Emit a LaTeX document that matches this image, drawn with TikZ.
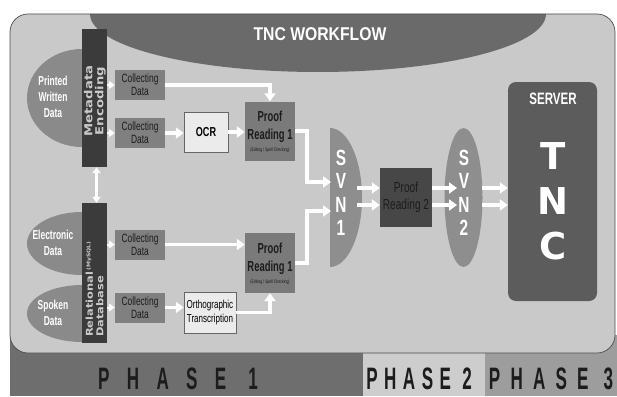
\documentclass[tikz,border=0pt]{standalone}
\usepackage{fontspec}
\setmainfont{Liberation Sans}
\newfontfamily\condfont[FakeStretch=0.7]{Liberation Sans}
\newfontfamily\narrowfont[FakeStretch=0.65]{Liberation Sans}
\newfontfamily\titlefont[FakeStretch=0.85]{Liberation Sans}
\newfontfamily\barfont[FakeStretch=1.2]{DejaVu Sans}
\newfontfamily\bigfont{DejaVu Sans}
\newfontfamily\phasefontA[FakeStretch=0.55,LetterSpace=56]{Liberation Sans}
\newfontfamily\phasefontB[FakeStretch=0.55,LetterSpace=21]{Liberation Sans}
\newfontfamily\phasefontC[FakeStretch=0.55,LetterSpace=33]{Liberation Sans}
\usetikzlibrary{positioning,arrows.meta,calc}
\definecolor{tncpanel}{HTML}{C9C9C9}
\definecolor{tnctitle}{HTML}{6A6A6A}
\definecolor{tncsrc}{HTML}{8A8A8A}
\definecolor{tncbar}{HTML}{3B3B3B}
\definecolor{tnccoll}{HTML}{808080}
\definecolor{tncproof}{HTML}{7A7A7A}
\definecolor{tncproofdark}{HTML}{474747}
\definecolor{tncsvn}{HTML}{8E8E8E}
\definecolor{tncserver}{HTML}{5C5C5C}
\definecolor{tncwhitebox}{HTML}{EBEBEB}
\definecolor{tncphaseA}{HTML}{6E6E6E}
\definecolor{tncphaseB}{HTML}{CDCDCD}
\definecolor{tncphaseC}{HTML}{9D9D9D}
\definecolor{tncink}{HTML}{1C1C1C}

\begin{document}
\begin{tikzpicture}[x=1pt,y=-1pt,
  wharrow/.style={white,line width=3.5pt,-{Triangle[length=8pt,width=11pt]}},
  wsmall/.style={white,line width=2pt,-{Triangle[length=6pt,width=8pt]}},
  wdouble/.style={white,line width=2.5pt,{Triangle[length=6pt,width=8pt]}-{Triangle[length=6pt,width=8pt]}},
  srclab/.style={white,align=center,font=\narrowfont\bfseries\fontsize{13}{16}\selectfont},
  bar/.style={fill=tncbar,minimum width=25pt,inner sep=0pt},
  barlab/.style={text=tncpanel,align=left,font=\barfont\bfseries,inner sep=0pt},
  coll/.style={fill=tnccoll,minimum width=50pt,minimum height=30pt,inner sep=0pt,
    text=tncink,align=center,font=\condfont\fontsize{12}{13}\selectfont},
  wbox/.style={fill=tncwhitebox,draw=black!60,line width=0.5pt,inner sep=0pt,text=black,align=center},
  proofbox/.style={fill=tncproof,minimum width=50pt,minimum height=59pt,inner sep=0pt},
  prooflab/.style={text=tncink,align=center,font=\narrowfont\bfseries\fontsize{14.5}{18}\selectfont},
  editlab/.style={text=tncink,font=\condfont\fontsize{5}{6}\selectfont,inner sep=0pt},
  svnlab/.style={white,align=center,font=\condfont\bfseries\fontsize{22}{23.5}\selectfont},
  phaselab/.style={text=tncink}
]
\useasboundingbox (0,0) rectangle (617,396);

% Phase bands along the bottom
\fill[tncphaseA] (10,335) rectangle (363,396);
\fill[tncphaseB] (363,335) rectangle (485,396);
\fill[tncphaseC] (485,335) rectangle (617,396);
\node[phaselab,font=\phasefontA\bfseries\fontsize{31}{31}\selectfont] (ph1) at (178,379) {PHASE 1};
\node[phaselab,font=\phasefontB\bfseries\fontsize{31}{31}\selectfont] (ph2) at (419,379) {PHASE 2};
\node[phaselab,font=\phasefontC\bfseries\fontsize{31}{31}\selectfont] (ph3) at (551,379) {PHASE 3};

% Main panel and title cap
\fill[tncpanel,rounded corners=18pt] (10,14) rectangle (615,353);
\begin{scope}
  \clip[rounded corners=18pt] (10,14) rectangle (615,353);
  \fill[tnctitle] (318,14) ellipse [x radius=228pt,y radius=58pt];
\end{scope}
\draw[black!70,line width=0.7pt,rounded corners=18pt] (10,14) rectangle (615,353);
\node[white,font=\titlefont\bfseries\fontsize{18.5}{18}\selectfont] (title) at (320,34) {TNC WORKFLOW};

% Data sources (half ellipses behind the bars)
\fill[tncsrc] (82,49) arc[start angle=90,end angle=270,x radius=55pt,y radius=49pt] -- cycle;
\fill[tncsrc] (82,212) arc[start angle=90,end angle=270,x radius=55pt,y radius=31.5pt] -- cycle;
\fill[tncsrc] (82,285) arc[start angle=90,end angle=270,x radius=55pt,y radius=28.5pt] -- cycle;
\node[srclab] (printed) at (53,97) {Printed\\Written\\Data};
\node[srclab] (electronic) at (53,243) {Electronic\\Data};
\node[srclab] (spoken) at (53,313) {Spoken\\Data};

% Encoding bars
\node[bar,minimum height=138pt] (meta) at (94.5,98) {};
\node[barlab,rotate=90,align=center,font=\barfont\bfseries\fontsize{11}{11}\selectfont] at (95,101) {Metadata\\Encoding};
\node[bar,minimum height=140pt] (rel) at (94.5,273) {};
\node[barlab,rotate=90,anchor=west,font=\barfont\bfseries\fontsize{9.5}{10.5}\selectfont] at (94.5,337) {Relational\,\raisebox{2.5pt}{\fontsize{5}{6}\selectfont(MySQL)}\\Database};
\draw[wdouble] ([xshift=2pt]meta.south) -- ([xshift=2pt]rel.north);

% Collecting data
\node[coll] (cd1) at (140,85) {Collecting\\Data};
\node[coll] (cd2) at (140,133) {Collecting\\Data};
\node[coll] (cd3) at (140,244.5) {Collecting\\Data};
\node[coll] (cd4) at (140,307.5) {Collecting\\Data};
\foreach \c in {cd1,cd2}
  \draw[wsmall] (meta.east |- \c) -- (\c.west);
\foreach \c in {cd3,cd4}
  \draw[wsmall] (rel.east |- \c) -- (\c.west);

% OCR and transcription
\node[wbox,minimum width=44pt,minimum height=40pt,font=\condfont\bfseries\fontsize{13}{13}\selectfont] (ocr) at (206,132) {OCR};
\node[wbox,minimum width=52pt,minimum height=41pt,font=\condfont\fontsize{11.5}{14}\selectfont] (ortho) at (210,312.5) {Orthographic\\Transcription};

% Proof reading 1 (two of them)
\node[proofbox] (pr1a) at (270,131) {};
\node[prooflab] at ([yshift=4pt]pr1a) {Proof\\Reading 1};
\node[editlab] at ([yshift=-19pt]pr1a) {(Editing / Spell Checking)};
\node[proofbox,minimum height=60pt] (pr1b) at (270,263) {};
\node[prooflab] at ([yshift=4pt]pr1b) {Proof\\Reading 1};
\node[editlab] at ([yshift=-19pt]pr1b) {(Editing / Spell Checking)};

\draw[wharrow] (cd1.east) -| (pr1a.north);
\draw[wharrow] (cd2.east) -- (cd2.east -| ocr.west);
\draw[wharrow] (ocr.east) -- (ocr.east -| pr1a.west);
\draw[wharrow] (cd3.east) -- (cd3.east -| pr1b.west);
\draw[wharrow] (cd4.east) -- (cd4.east -| ortho.west);
\draw[wharrow] (ortho.east) -| (pr1b.south);

% SVN 1
\fill[tncsvn] (330,128) arc[start angle=90,end angle=-90,x radius=32pt,y radius=69.5pt] -- cycle;
\node[svnlab] (svn1) at (341,193) {S\\V\\N\\1};
\coordinate (svn1top) at (331,182);
\coordinate (svn1bot) at (331,211);
\draw[wharrow] (pr1a.east) -- ++(12,0) |- (svn1top);
\draw[wharrow] (pr1b.east) -- ++(12,0) |- (svn1bot);

% Proof reading 2
\node[fill=tncproofdark,minimum width=52pt,minimum height=59pt,inner sep=0pt] (pr2) at (406,197.5) {};
\node[prooflab,font=\condfont\fontsize{14.5}{17}\selectfont] at (pr2) {Proof\\Reading 2};

% SVN 2
\fill[tncsvn] (463.5,197.5) ellipse [x radius=19pt,y radius=69.5pt];
\node[svnlab] (svn2) at (464,193) {S\\V\\N\\2};

% Server
\node[fill=tncserver,rounded corners=8pt,minimum width=89pt,minimum height=219pt,inner sep=0pt] (server) at (552.5,191.5) {};
\node[white,font=\condfont\bfseries\fontsize{16.5}{16}\selectfont] (srvlab) at (553,99) {SERVER};
\node[white,align=center,font=\bigfont\bfseries\fontsize{37}{45}\selectfont] (tnc) at (553,201) {T\\N\\C};

% Double arrows between SVN 1, proof reading 2, SVN 2 and server
\foreach \yy in {188,205} {
  \draw[wharrow] (357,\yy) -- (pr2.west |- 0,\yy);
  \draw[wharrow] (pr2.east |- 0,\yy) -- (457,\yy);
  \draw[wharrow] (482,\yy) -- (server.west |- 0,\yy);
}

\end{tikzpicture}
\end{document}
